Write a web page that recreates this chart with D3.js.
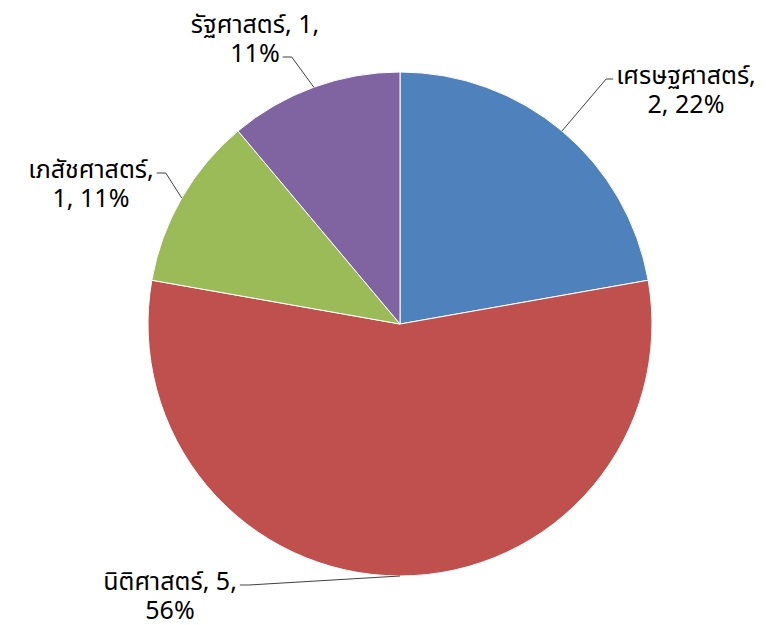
<!DOCTYPE html>
<html>
<head>
<meta charset="utf-8">
<script src="https://cdn.jsdelivr.net/npm/d3@7"></script>
<style>
  body { margin: 0; background: #fff; }
  text { font-family: Tahoma, "Noto Sans Thai", "Noto Sans", "DejaVu Sans", sans-serif; font-size: 25px; fill: #000; }
</style>
</head>
<body>
<div id="chart"></div>
<script>
var categories = ["เศรษฐศาสตร์", "นิติศาสตร์", "เภสัชศาสตร์", "รัฐศาสตร์"];
var values = [2, 5, 1, 1];
var percents = [22, 56, 11, 11];
// how many comma parts go on the first line of each label
var firstLineParts = [1, 2, 1, 2];

var colors = ["#4F81BD", "#C0504D", "#9BBB59", "#8064A2"];

var svgWidth = 775;
var svgHeight = 625;
var cx = 400, cy = 324, radius = 252;

// label layout: centre x, first baseline y, which line the leader hits, side
var labelLayout = [
  { x: 686, y: 84, line: 0, side: "left" },
  { x: 170, y: 590, line: 0, side: "right" },
  { x: 91, y: 178, line: 0, side: "right" },
  { x: 255, y: 33, line: 1, side: "right" }
];

var svg = d3.select("#chart")
  .append("svg")
  .attr("width", svgWidth)
  .attr("height", svgHeight);

var data = categories.map(function(c, i) {
  return { name: c, value: values[i], pct: percents[i], color: colors[i] };
});

var pie = d3.pie().sort(null).value(function(d) { return d.value; });
var arc = d3.arc().innerRadius(0).outerRadius(radius);

var arcs = pie(data);

var chart = svg.append("g")
  .attr("transform", "translate(" + cx + "," + cy + ")");

chart.selectAll("path")
  .data(arcs)
  .enter()
  .append("path")
  .attr("d", arc)
  .attr("fill", function(d) { return d.data.color; })
  .attr("stroke", "#fff")
  .attr("stroke-width", 1);

var labels = svg.append("g");

arcs.forEach(function(a, i) {
  var lay = labelLayout[i];
  var parts = [a.data.name, String(a.data.value), a.data.pct + "%"];
  var n = firstLineParts[i];
  var lines = [
    parts.slice(0, n).join(", ") + ",",
    parts.slice(n).join(", ")
  ];

  var spans = lines.map(function(l, k) {
    return labels.append("text")
      .attr("text-anchor", "middle")
      .attr("x", lay.x)
      .attr("y", lay.y + k * 29)
      .text(l);
  });

  // leader line from slice edge to the label
  var mid = (a.startAngle + a.endAngle) / 2;
  var ex = cx + radius * Math.sin(mid);
  var ey = cy - radius * Math.cos(mid);

  var bb = spans[lay.line].node().getBBox();
  var ly = lay.y + lay.line * 29 - 5;
  var lx, elbow;
  if (lay.side === "left") {
    lx = bb.x - 3;
    elbow = lx - 7;
  } else {
    lx = bb.x + bb.width + 3;
    elbow = lx + 9;
  }

  labels.append("path")
    .attr("d", d3.line()([[ex, ey], [elbow, ly], [lx, ly]]))
    .attr("fill", "none")
    .attr("stroke", "#404040")
    .attr("stroke-width", 1);
});
</script>
</body>
</html>
